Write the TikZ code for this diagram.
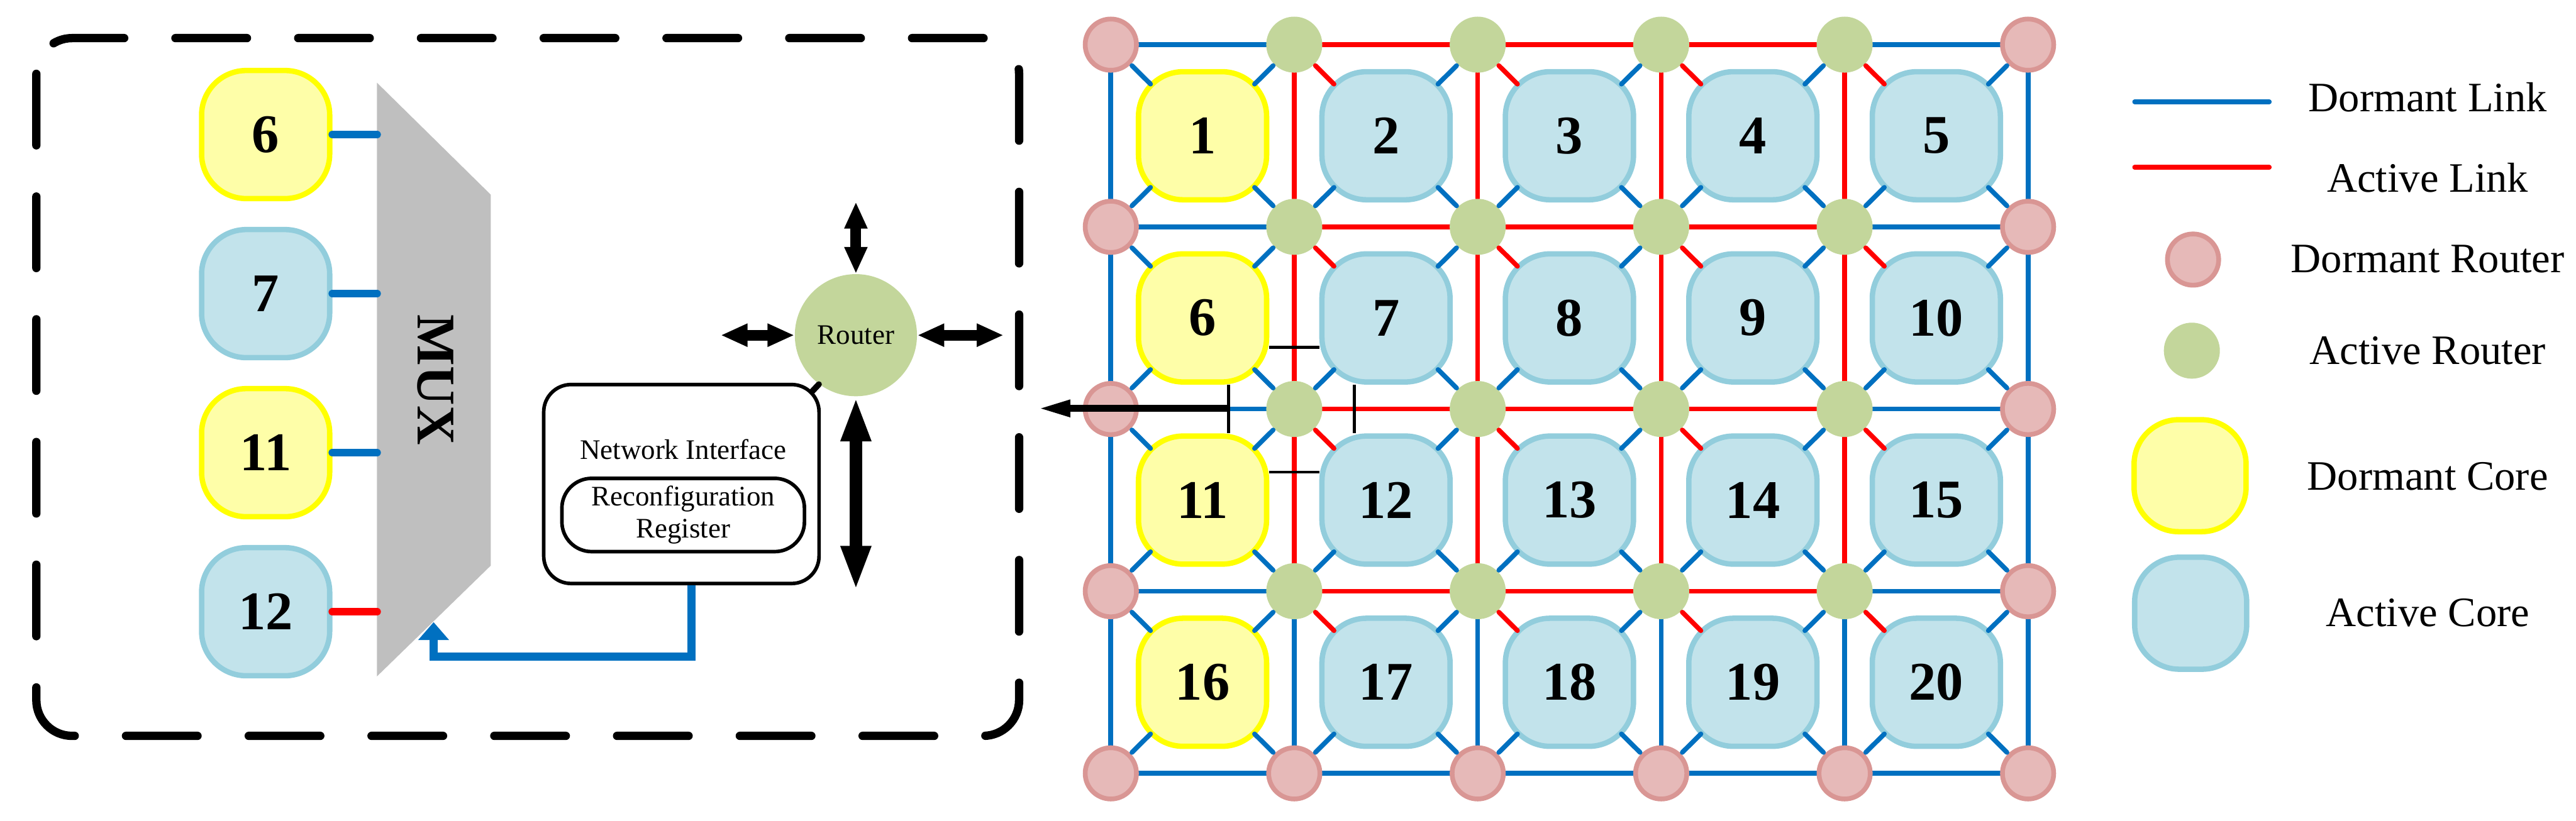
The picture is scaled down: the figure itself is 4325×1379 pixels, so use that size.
\documentclass[tikz,border=0pt]{standalone}
\usepackage{fontspec}
\setmainfont{Liberation Serif}
\usetikzlibrary{arrows.meta}
\usetikzlibrary{backgrounds}
\definecolor{dyellow}{RGB}{255,255,0}
\definecolor{dyellowfill}{RGB}{254,254,168}
\definecolor{acyan}{RGB}{146,205,220}
\definecolor{acyanfill}{RGB}{194,227,235}
\definecolor{dpink}{RGB}{217,150,148}
\definecolor{dpinkfill}{RGB}{230,185,184}
\definecolor{agreen}{RGB}{195,214,155}
\definecolor{lblue}{RGB}{0,112,192}
\definecolor{lred}{RGB}{255,0,0}
\definecolor{muxgray}{RGB}{191,191,191}

\begin{document}
\begin{tikzpicture}[x=0.01cm, y=-0.01cm, node distance={2.67cm},
    core0/.style = {draw=dyellow, fill=dyellowfill, line width=0.09cm, rounded corners=0.75cm, minimum size=2.15cm, font=\fontsize{26}{30}\selectfont\bfseries},
    core1/.style = {core0, draw=acyan, fill=acyanfill},
    router0/.style = {circle, draw=dpink, fill=dpinkfill, line width=0.08cm, minimum size=0.86cm, inner sep=0pt},
    router1/.style = {circle, fill=agreen, minimum size=0.94cm, inner sep=0pt},
    link0/.style = {lblue, line width=0.08cm, line cap=round},
    link1/.style = {link0, lred},
    stub/.style = {shorten <=0.5cm, shorten >=1.23cm},
    muxlink/.style = {lblue, line width=0.13cm, line cap=round},
    fat/.style = {line width=0.18cm, {Triangle[length=0.45cm, width=0.36cm]}-{Triangle[length=0.45cm, width=0.36cm]}},
    fatter/.style = {line width=0.22cm, {Triangle[length=0.75cm, width=0.46cm]}-{Triangle[length=0.75cm, width=0.46cm]}},
    small/.style = {font=\fontsize{13.5}{15.5}\selectfont},
    cut/.style = {black, line width=0.05cm},
    legend/.style = {font=\fontsize{20}{24}\selectfont}]
        \useasboundingbox (0,0) rectangle (4325,1379);

        \draw[line width=0.14cm, line cap=round, dash pattern=on 1.2cm off 0.86cm, rounded corners=0.6cm] (61,64) rectangle (1711,1236);
        \fill[muxgray] (633,139) -- (824,327) -- (824,950) -- (633,1136) -- cycle;
        \node[rotate=-90, font=\fontsize{26}{30}\selectfont\bfseries] (mux) at (731,638) {MUX};
        \coordinate (muxL) at (633,638);
        \node[core0] (m6) at (446,226) {6};
        \node[core1] (m7) [below of = m6] {7};
        \node[core0] (m11) [below of = m7] {11};
        \node[core1] (m12) [below of = m11] {12};
        \draw[muxlink] (m6.east) -- (m6.east -| muxL);
        \draw[muxlink] (m7.east) -- (m7.east -| muxL);
        \draw[muxlink] (m11.east) -- (m11.east -| muxL);
        \draw[muxlink, lred] (m12.east) -- (m12.east -| muxL);

        \node[router1, minimum size=2.05cm, small] (rt) at (1437,563) {Router};
        \coordinate (rtN) at (1437,339);
        \coordinate (rtW) at (1210,563);
        \coordinate (rtE) at (1685,563);
        \coordinate (rtS) at (1437,992);
        \draw[fat] (rt) -- (rtN);
        \draw[fat] (rt) -- (rtW);
        \draw[fat] (rt) -- (rtE);
        \draw[fatter] (rt) -- (rtS);

        \node[draw, line width=0.06cm, rounded corners=0.46cm, minimum width=4.62cm, minimum height=3.34cm] (ni) at (1144,813) {};
        \node[draw, line width=0.06cm, rounded corners=0.5cm, minimum width=4.07cm, minimum height=1.23cm, align=center, small] (reg) at (1147,865) {Reconfiguration\\Register};
        \node[small, node distance=1.1cm] (nilabel) [above of = reg] {Network Interface};
        \draw[line width=0.1cm, line cap=round] ([shift={(-0.15cm,-0.15cm)}]ni.north east) -- (rt.233);
        \coordinate (muxin) at (728,1045);
        \draw[lblue, line width=0.14cm, -{Triangle[length=0.3cm, width=0.5cm]}] ([xshift=0.17cm]ni.south) -- ++(0,120) -| (muxin);

        \foreach \row in {0,...,4}
            \foreach \col in {0,...,5} {
                \pgfmathtruncatemacro{\act}{(\col>0)*(\col<5)*(\row<4)}
                \node[router\act] (r-\col-\row) at ({1865+308*\col}, {75+306*\row}) {};
            }
        \foreach \row in {0,...,3}
            \foreach \col in {0,...,4} {
                \pgfmathtruncatemacro{\k}{5*\row+\col+1}
                \pgfmathtruncatemacro{\act}{\col>0}
                \pgfmathtruncatemacro{\cc}{\col+1}
                \pgfmathtruncatemacro{\rr}{\row+1}
                \node[core\act] (c\k) at ({2019+308*\col}, {228+306*\row}) {\k};
                \draw[link\act, stub] (r-\col-\row.center) -- (c\k.center);
                \draw[link0, stub] (r-\cc-\row.center) -- (c\k.center);
                \draw[link0, stub] (r-\col-\rr.center) -- (c\k.center);
                \draw[link0, stub] (r-\cc-\rr.center) -- (c\k.center);
            }
        \begin{scope}[on background layer]
            \foreach \row in {0,...,4}
                \foreach \col in {0,...,4} {
                    \pgfmathtruncatemacro{\cc}{\col+1}
                    \pgfmathtruncatemacro{\on}{(\col>0)*(\col<4)*(\row<4)}
                    \draw[link\on] (r-\col-\row) -- (r-\cc-\row);
                }
            \foreach \col in {0,...,5}
                \foreach \row in {0,...,3} {
                    \pgfmathtruncatemacro{\rr}{\row+1}
                    \pgfmathtruncatemacro{\on}{(\col>0)*(\col<5)*(\row<3)}
                    \draw[link\on] (r-\col-\row) -- (r-\col-\rr);
                }
        \end{scope}

        \draw[cut] ([yshift=-0.49cm]c6.east) -- ([yshift=-0.49cm]c7.west);
        \draw[cut] ([yshift=0.47cm]c11.east) -- ([yshift=0.47cm]c12.west);
        \draw[cut] ([xshift=0.44cm]c6.south) -- ([xshift=0.44cm]c11.north);
        \draw[cut] ([xshift=-0.53cm]c7.south) -- ([xshift=-0.53cm]c12.north);
        \coordinate (cutL) at (2064,686);
        \coordinate (exit) at (1742,686);
        \draw[line width=0.12cm, -{Triangle[length=0.55cm, width=0.26cm]}] (cutL) -- (exit);

        \draw[link0, line width=0.08cm] (3584,171) -- (3810,171);
        \draw[link1, line width=0.08cm] (3584,281) -- (3810,281);
        \node[router0] (lg-dr) at (3682,436) {};
        \node[router1] (lg-ar) at (3680,589) {};
        \node[core0, minimum size=1.88cm] (lg-dc) at (3677,799) {};
        \node[core1, minimum size=1.88cm] (lg-ac) at (3678,1030) {};
        \node[legend] (t-dl) at (4076,163) {Dormant Link};
        \node[legend] (t-al) at (4076,299) {Active Link};
        \node[legend] (t-dr) at (4076,435) {Dormant Router};
        \node[legend] (t-ar) at (4076,589) {Active Router};
        \node[legend] (t-dc) at (4076,800) {Dormant Core};
        \node[legend] (t-ac) at (4076,1029) {Active Core};
\end{tikzpicture}
\end{document}
